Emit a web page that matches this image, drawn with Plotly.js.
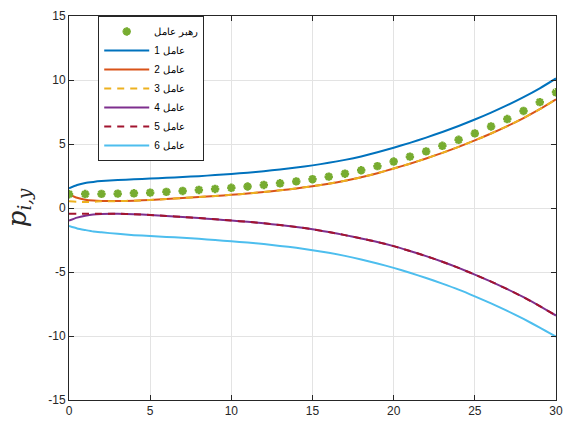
<!DOCTYPE html>
<html>
<head>
<meta charset="utf-8">
<script src="https://cdn.plot.ly/plotly-3.0.1.min.js"></script>
<style>html,body{margin:0;padding:0;background:#fff;}#chart{width:566px;height:423px;}</style>
</head>
<body>
<div id="chart"></div>
<script>
// ---- data ----
var xLeader = [0,1,2,3,4,5,6,7,8,9,10,11,12,13,14,15,16,17,18,19,20,21,22,23,24,25,26,27,28,29,30];
var leader  = [1.08,1.09,1.10,1.12,1.15,1.20,1.26,1.33,1.41,1.49,1.58,1.68,1.80,1.93,2.08,2.25,2.45,2.68,2.95,3.27,3.63,4.01,4.42,4.86,5.33,5.83,6.37,6.95,7.58,8.27,9.04];

var xAgents = [0,0.5,1,1.5,2,3,4,5,6,7,8,9,10,11,12,13,14,15,16,17,18,19,20,21,22,23,24,25,26,27,28,29,30];
var agent1 = [1.54,1.80,1.96,2.04,2.10,2.18,2.25,2.30,2.36,2.42,2.49,2.57,2.66,2.76,2.88,3.01,3.16,3.33,3.53,3.76,4.03,4.35,4.71,5.09,5.50,5.94,6.41,6.91,7.45,8.03,8.66,9.35,10.12];
var agent2 = [1.07,0.80,0.65,0.58,0.55,0.54,0.57,0.63,0.70,0.78,0.86,0.94,1.03,1.13,1.25,1.38,1.53,1.70,1.90,2.13,2.40,2.72,3.08,3.46,3.87,4.31,4.78,5.28,5.82,6.40,7.03,7.72,8.49];
var agent3 = [0.52,0.48,0.47,0.49,0.52,0.54,0.57,0.63,0.70,0.78,0.86,0.94,1.03,1.13,1.25,1.38,1.53,1.70,1.90,2.13,2.40,2.72,3.08,3.46,3.87,4.31,4.78,5.28,5.82,6.40,7.03,7.72,8.49];
var agent4 = [-0.99,-0.75,-0.60,-0.50,-0.46,-0.45,-0.48,-0.55,-0.62,-0.70,-0.79,-0.88,-0.98,-1.08,-1.20,-1.33,-1.48,-1.66,-1.88,-2.12,-2.38,-2.66,-2.98,-3.36,-3.76,-4.20,-4.68,-5.20,-5.75,-6.34,-6.97,-7.66,-8.40];
var agent5 = [-0.45,-0.45,-0.45,-0.45,-0.45,-0.45,-0.48,-0.55,-0.62,-0.70,-0.79,-0.88,-0.98,-1.08,-1.20,-1.33,-1.48,-1.66,-1.88,-2.12,-2.38,-2.66,-2.98,-3.36,-3.76,-4.20,-4.68,-5.20,-5.75,-6.34,-6.97,-7.66,-8.40];
var agent6 = [-1.41,-1.60,-1.72,-1.83,-1.90,-2.02,-2.12,-2.19,-2.26,-2.33,-2.41,-2.50,-2.60,-2.70,-2.82,-2.96,-3.11,-3.30,-3.50,-3.74,-4.02,-4.33,-4.68,-5.06,-5.47,-5.91,-6.38,-6.90,-7.45,-8.04,-8.67,-9.34,-10.05];

var legendNames = ["رهبر عامل","عامل 1","عامل 2","عامل 3","عامل 4","عامل 5","عامل 6"];
var xTicks = [0,5,10,15,20,25,30];
var yTicks = [-15,-10,-5,0,5,10,15];

// ---- styles ----
var colors = ["#77AC30","#0072BD","#D95319","#EDB120","#7E2F8E","#A2142F","#4DBEEE"];
var agentSeries = [agent1, agent2, agent3, agent4, agent5, agent6];
var dashes = ["solid","solid","7px,6px","solid","7px,6px","solid"];

var traces = [];
agentSeries.forEach(function(s, i){
  traces.push({
    x: xAgents, y: s, type: "scatter", mode: "lines",
    name: legendNames[i+1], legendrank: i+2,
    line: {color: colors[i+1], width: 2, dash: dashes[i], shape: "spline", smoothing: 0.6}
  });
});
traces.push({
  x: xLeader, y: leader, type: "scatter", mode: "markers",
  name: legendNames[0], legendrank: 1,
  marker: {symbol: "asterisk", size: 7, color: colors[0], line: {color: colors[0], width: 2.5}}
});

var axisCommon = {
  showline: true, linecolor: "#262626", linewidth: 1, mirror: "ticks",
  ticks: "inside", ticklen: 5, tickcolor: "#262626",
  showgrid: true, gridcolor: "#e3e3e3", gridwidth: 1, zeroline: false,
  tickfont: {family: "Liberation Sans, Arial, sans-serif", size: 12, color: "#262626"}
};

var layout = {
  width: 566, height: 423,
  margin: {l: 69, r: 10, t: 16, b: 23, pad: 0},
  paper_bgcolor: "#fff", plot_bgcolor: "#fff",
  showlegend: true,
  xaxis: Object.assign({}, axisCommon, {range: [0, 30], tickvals: xTicks, ticktext: xTicks.map(String)}),
  yaxis: Object.assign({}, axisCommon, {range: [-15, 15], tickvals: yTicks, ticktext: yTicks.map(String),
    title: {text: "<i>p</i><sub><i>i,y</i></sub>", font: {family: "DejaVu Serif, Liberation Serif, serif", size: 26, color: "#262626"}, standoff: 14}}),
  legend: {
    x: 0.06, y: 1, xanchor: "left", yanchor: "top",
    bgcolor: "#fff", bordercolor: "#262626", borderwidth: 1,
    font: {family: "Liberation Sans, Arial, sans-serif", size: 10, color: "#000"},
    itemwidth: 45, tracegroupgap: 0
  }
};

Plotly.newPlot("chart", traces, layout, {displayModeBar: false, staticPlot: true});
</script>
</body>
</html>
